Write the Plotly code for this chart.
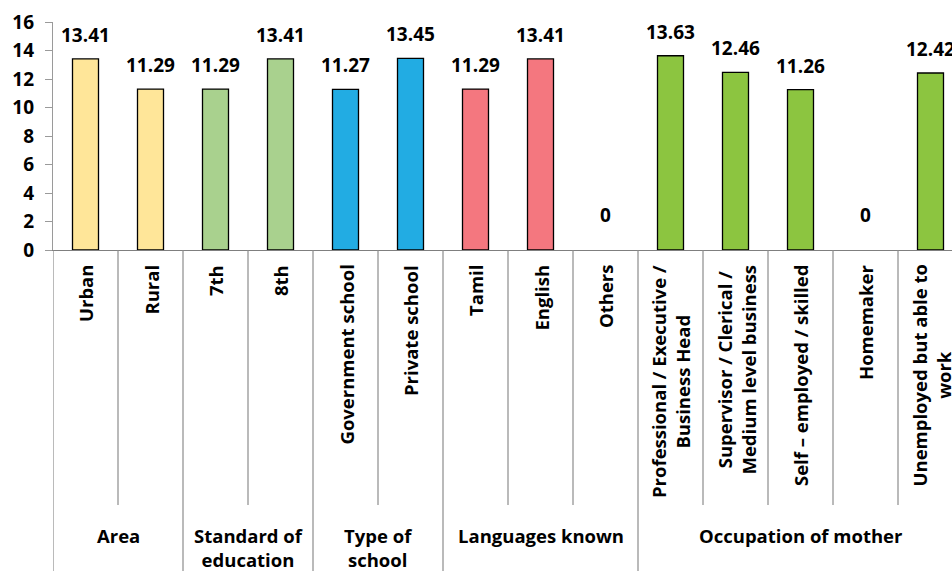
import plotly.graph_objects as go

# ---- data ----
groups = ["Area", "Standard of<br>education", "Type of<br>school", "Languages known", "Occupation of mother"]
categories = [
    ["Urban", "Rural"],
    ["7th", "8th"],
    ["Government school", "Private school"],
    ["Tamil", "English", "Others"],
    ["Professional / Executive /<br>Business Head",
     "Supervisor / Clerical /<br>Medium level business",
     "Self – employed / skilled",
     "Homemaker",
     "Unemployed but able to<br>work"],
]
values = [
    [13.41, 11.29],
    [11.29, 13.41],
    [11.27, 13.45],
    [11.29, 13.41, 0],
    [13.63, 12.46, 11.26, 0, 12.42],
]
group_colors = ["#FFE699", "#A9D18E", "#22ACE3", "#F4777F", "#8CC540"]
y_ticks = [0, 2, 4, 6, 8, 10, 12, 14, 16]

# ---- layout constants ----
W, H = 952, 571
ML, MR, MT, MB = 53, 0, 22, 321
plot_h = H - MT - MB
FONT = "Open Sans"

def py(pixel_y):
    """convert page pixel y to paper coordinate"""
    return (H - MB - pixel_y) / plot_h

x_pos, y_val, colors, labels = [], [], [], []
group_spans = []
i = 0
for g, cats, vals, col in zip(groups, categories, values, group_colors):
    start = i
    for c, v in zip(cats, vals):
        x_pos.append(i)
        y_val.append(v)
        colors.append(col)
        labels.append(c)
        i += 1
    group_spans.append((start, i - 1))
n = i

fig = go.Figure()
fig.add_trace(go.Bar(
    x=x_pos, y=y_val, width=0.4,
    marker=dict(color=colors,
                line=dict(color="#000000", width=[1.3 if v > 0 else 0 for v in y_val])),
    hoverinfo="skip",
))

annotations = []
# value labels
for x, v in zip(x_pos, y_val):
    annotations.append(dict(
        x=x, y=v, xref="x", yref="y", text=f"{v:g}" if v == 0 else f"{v:.2f}",
        showarrow=False, yanchor="bottom", yshift=20 if v == 0 else 9,
        font=dict(family=FONT, size=19, color="#000000", weight="bold"),
    ))
# category labels (rotated)
for x, lab in zip(x_pos, labels):
    annotations.append(dict(
        x=x, y=py(263), xref="x", yref="paper", text=lab, textangle=-90,
        showarrow=False, yanchor="top", xanchor="center", align="center",
        font=dict(family=FONT, size=18.5, color="#000000", weight="bold"),
    ))
# group labels
for g, (s, e) in zip(groups, group_spans):
    annotations.append(dict(
        x=(s + e) / 2, y=py(521), xref="x", yref="paper", text=g,
        showarrow=False, yanchor="top", xanchor="center", align="center",
        font=dict(family=FONT, size=18.5, color="#000000", weight="bold"),
    ))

shapes = []
line_col = "#8C8C8C"
group_bounds = set([s - 0.5 for s, e in group_spans] + [group_spans[-1][1] + 0.5])
for b in [k - 0.5 for k in range(n + 1)]:
    if b in group_bounds:
        y1 = py(H + 5)
    else:
        y1 = py(505)
    shapes.append(dict(type="line", xref="x", yref="paper", x0=b, x1=b, y0=0, y1=y1,
                       line=dict(color=line_col, width=1.2)))

x_right = -0.5 + (W - ML) / 65.0

fig.update_layout(
    width=W, height=H,
    margin=dict(l=ML, r=MR, t=MT, b=MB, pad=0),
    plot_bgcolor="white", paper_bgcolor="white",
    showlegend=False,
    bargap=0.6,
    annotations=annotations,
    shapes=shapes,
    xaxis=dict(range=[-0.5, x_right], showticklabels=False, ticks="",
               showline=True, linecolor="#7F7F7F", linewidth=1.3, showgrid=False,
               zeroline=False, fixedrange=True),
    yaxis=dict(range=[0, 16], tickvals=y_ticks, showline=True, linecolor="#9A9A9A",
               linewidth=1.3, ticks="outside", ticklen=7, tickcolor="#9A9A9A",
               showgrid=False, zeroline=False, ticklabelstandoff=7,
               tickfont=dict(family=FONT, size=19, color="#000000", weight="bold")),
)

fig.write_html("out.html")
